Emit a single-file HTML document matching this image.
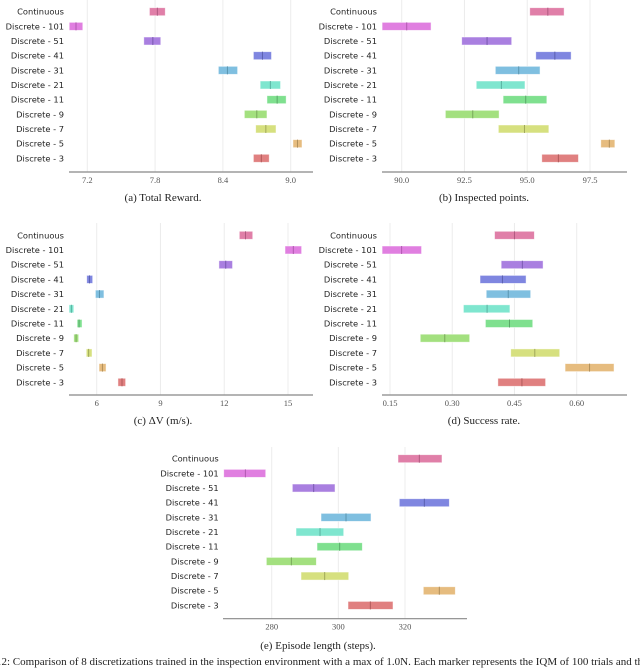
<!DOCTYPE html>
<html><head><meta charset="utf-8"><style>
html,body{margin:0;padding:0;background:#fff;width:640px;height:668px;overflow:hidden}
svg{display:block}
.lbl{font-family:"DejaVu Sans","Liberation Sans",sans-serif;font-size:8.3px;fill:#222}
.tick{font-family:"Liberation Serif",serif;font-size:8.5px;fill:#555}
.cap{font-family:"Liberation Serif",serif;font-size:11px;fill:#222}
</style></head><body>
<svg id="fig" width="640" height="668" viewBox="0 0 640 668" xmlns="http://www.w3.org/2000/svg">
<text class="cap" x="-4" y="665">12:  Comparison of 8 discretizations trained in the inspection environment with a max of 1.0N. Each marker represents the IQM of 100 trials and the</text>
</svg>
<script>
const categories=["Continuous","Discrete - 101","Discrete - 51","Discrete - 41","Discrete - 31","Discrete - 21","Discrete - 11","Discrete - 9","Discrete - 7","Discrete - 5","Discrete - 3"];
const fills=["#e07fa8","#e07fe0","#a97fe0","#7f86e0","#7fbfe0","#7fe6cf","#7fe08f","#a3e07f","#d6e07f","#e6bc7f","#e08080"];
const medColors=["#b05a80","#b05ab0","#7a5ab0","#5a60b0","#5a95b0","#5ab0a0","#5aa868","#78a85a","#a0a85a","#b08f5a","#b05a5a"];
// Total reward
const rewardLo=[7.75,7.04,7.70,8.67,8.36,8.73,8.79,8.59,8.69,9.02,8.67];
const rewardHi=[7.89,7.16,7.85,8.83,8.53,8.91,8.96,8.79,8.87,9.10,8.81];
const rewardMed=[7.82,7.10,7.78,8.75,8.44,8.82,8.88,8.70,8.78,9.06,8.74];
const rewardTicks=[7.2,7.8,8.4,9.0];
// Inspected points
const inspLo=[95.10,89.22,92.39,95.34,93.73,92.97,94.04,91.74,93.85,97.93,95.58];
const inspHi=[96.47,91.17,94.38,96.75,95.51,94.91,95.78,93.88,95.86,98.49,97.04];
const inspMed=[95.82,90.20,93.40,96.10,94.66,93.97,94.94,92.83,94.89,98.27,96.24];
const inspTicks=[90.0,92.5,95.0,97.5];
// Delta V
const dvLo=[12.71,14.86,11.75,5.53,5.94,4.70,5.08,4.92,5.51,6.11,7.00];
const dvHi=[13.34,15.64,12.39,5.81,6.34,4.92,5.31,5.15,5.78,6.44,7.36];
const dvMed=[13.00,15.25,12.07,5.66,6.13,4.81,5.17,5.03,5.62,6.27,7.19];
const dvTicks=[6,9,12,15];
// Success rate
const srLo=[0.402,0.131,0.418,0.367,0.382,0.327,0.380,0.223,0.441,0.572,0.410];
const srHi=[0.498,0.226,0.519,0.478,0.489,0.439,0.494,0.342,0.559,0.690,0.525];
const srMed=[0.450,0.178,0.469,0.421,0.435,0.384,0.438,0.282,0.499,0.631,0.468];
const srTicks=[0.15,0.30,0.45,0.60];
// Episode length
const epLo=[317.9,265.6,286.2,318.3,294.8,287.3,293.6,278.4,288.8,325.5,302.9];
const epHi=[331.1,278.2,299.0,333.3,309.8,301.6,307.2,293.4,303.1,335.1,316.4];
const epMed=[324.3,272.1,292.6,325.8,302.3,294.5,300.4,285.9,295.9,330.3,309.6];
const epTicks=[280,300,320];

const NS="http://www.w3.org/2000/svg";
const svg=document.getElementById('fig');
function mk(tag,attrs,parent){const e=document.createElementNS(NS,tag);for(const k in attrs)e.setAttribute(k,attrs[k]);(parent||svg).appendChild(e);return e;}

function panel(key,cfg,lo,hi,med,ticks,tickFmt,caption){
  const g=mk('g',{});
  
  
  const sx=v=>cfg.p0+(v-cfg.v0)*(cfg.p1-cfg.p0)/(cfg.v1-cfg.v0);
  const sy=i=>cfg.row0+i*cfg.step;
  ticks.forEach((t,i)=>{
    const gl=mk('line',{x1:sx(t),x2:sx(t),y1:cfg.gridTop,y2:cfg.axisY,stroke:'#ececec','stroke-width':1},g);
    
    
    const tl=mk('text',{x:sx(t),y:cfg.axisY+11,'text-anchor':'middle',class:'tick'},g);
    tl.textContent=tickFmt(t);
    
    
  });
  const ax=mk('line',{x1:cfg.ax0,x2:cfg.ax1,y1:cfg.axisY,y2:cfg.axisY,stroke:'#888','stroke-width':1.2},g);
  
  
  categories.forEach((c,i)=>{
    const y=sy(i);
    const t=mk('text',{x:cfg.labelX,y:y+3,'text-anchor':'end',class:'lbl'},g);
    t.textContent=c;
    
    
    const r=mk('rect',{x:sx(lo[i]),y:y-4,width:Math.max(1,sx(hi[i])-sx(lo[i])),height:8,fill:fills[i],stroke:'#fff','stroke-opacity':0.6,'stroke-width':0.8},g);
    
    
    const m=mk('line',{x1:sx(med[i]),x2:sx(med[i]),y1:y-4,y2:y+4,stroke:medColors[i],'stroke-width':1},g);
    
    
  });
  const cp=mk('text',{x:cfg.capX,y:cfg.capY,'text-anchor':'middle',class:'cap'},g);
  cp.textContent=caption;
  
  
}
panel('total-reward',{v0:7.2,p0:87.3,v1:9.0,p1:290.7,ax0:69,ax1:313,axisY:172,gridTop:0,row0:11.7,step:14.66,labelX:64,capX:163,capY:201},
  rewardLo,rewardHi,rewardMed,rewardTicks,t=>t.toFixed(1),'(a)  Total Reward.');
panel('inspected-points',{v0:90,p0:401.7,v1:97.5,p1:590,ax0:382,ax1:627,axisY:172,gridTop:0,row0:11.7,step:14.66,labelX:377,capX:484,capY:201},
  inspLo,inspHi,inspMed,inspTicks,t=>t.toFixed(1),'(b)  Inspected points.');
panel('delta-v',{v0:6,p0:96.7,v1:15,p1:288,ax0:69,ax1:313,axisY:395,gridTop:223,row0:235.3,step:14.7,labelX:64,capX:163,capY:424},
  dvLo,dvHi,dvMed,dvTicks,t=>String(t),'(c)  \u0394V  (m/s).');
panel('success-rate',{v0:0.15,p0:390,v1:0.60,p1:576.7,ax0:382,ax1:627,axisY:395,gridTop:223,row0:235.3,step:14.7,labelX:377,capX:484,capY:424},
  srLo,srHi,srMed,srTicks,t=>t.toFixed(2),'(d)  Success rate.');
panel('episode-length',{v0:280,p0:271.7,v1:320,p1:405,ax0:223,ax1:467,axisY:618.7,gridTop:447,row0:458.7,step:14.67,labelX:218.7,capX:318,capY:649},
  epLo,epHi,epMed,epTicks,t=>String(t),'(e)  Episode length (steps).');
</script>
</body></html>
